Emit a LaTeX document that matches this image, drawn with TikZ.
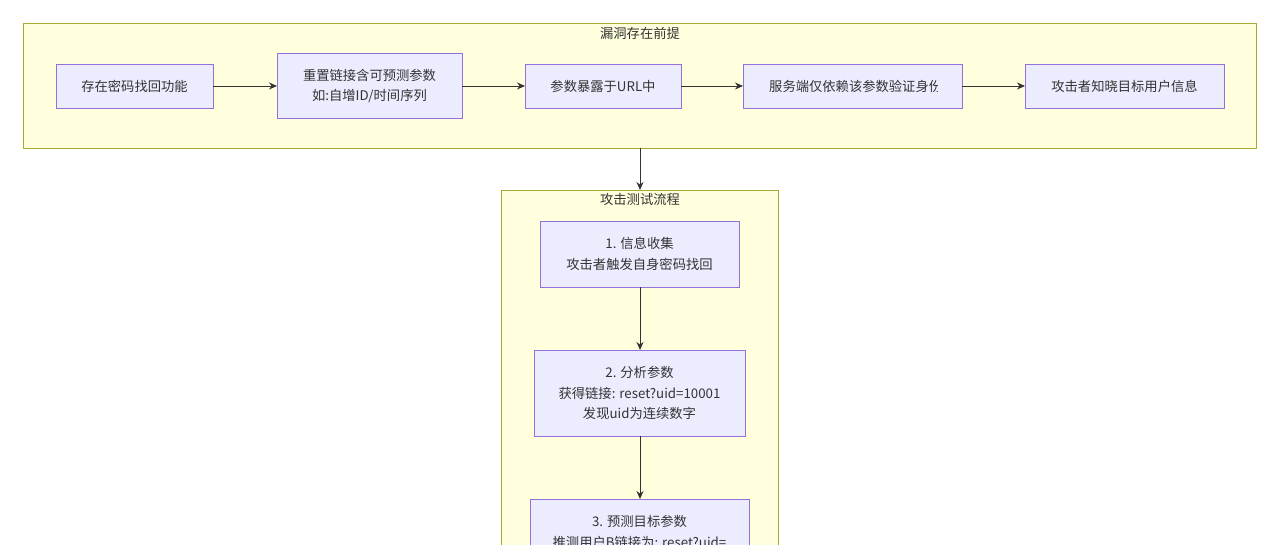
\documentclass[tikz,border=0pt]{standalone}
\usepackage{fontspec}
\setmainfont{Noto Sans CJK SC}
\usetikzlibrary{arrows.meta}
\definecolor{clfill}{HTML}{FFFFDE}
\definecolor{clline}{HTML}{AAAA33}
\definecolor{ndfill}{HTML}{ECECFF}
\definecolor{ndline}{HTML}{9370DB}
\definecolor{txt}{HTML}{333333}
\tikzset{
  x=1pt,y=-1pt,
  cluster/.style={draw=clline,fill=clfill,line width=0.7pt},
  nd/.style={draw=ndline,fill=ndfill,line width=0.7pt},
  lbl/.style={text=txt,font=\fontsize{13.3}{20.5}\selectfont,align=center,inner sep=0pt},
  arr/.style={draw=txt,line width=0.8pt,-{Stealth[length=8pt,width=7pt]}},
}
\begin{document}
\begin{tikzpicture}
\useasboundingbox (0,0) rectangle (1280,544);
\clip (0,0) rectangle (1280,544);
\fill[white] (0,0) rectangle (1280,544);
% cluster 1
\draw[cluster] (23,23) rectangle (1256,148);
\node[lbl] (t1) at (640,33) {漏洞存在前提};
\coordinate (c1b) at (640,148);
% cluster 2
\draw[cluster] (501,190) rectangle (778,560);
\node[lbl] (t2) at (640,199) {攻击测试流程};
\coordinate (c2t) at (640,190);
% top nodes
\draw[nd] (56,64) rectangle (213,108);
\node[lbl] (A) at (134.5,86) {存在密码找回功能};
\coordinate (Ar) at (213,86);
\draw[nd] (277,53) rectangle (462,118);
\node[lbl] (B) at (369.5,86) {重置链接含可预测参数\\如:自增ID/时间序列};
\coordinate (Bl) at (277,86); \coordinate (Br) at (462,86);
\draw[nd] (525,64) rectangle (681,108);
\node[lbl] (C) at (603,86) {参数暴露于URL中};
\coordinate (Cl) at (525,86); \coordinate (Cr) at (681,86);
\draw[nd] (743,64) rectangle (962,108);
\begin{scope}
\clip (743,64) rectangle (937,108);
\node[lbl,anchor=west] (D) at (769,86) {服务端仅依赖该参数验证身份};
\end{scope}
\coordinate (Dl) at (743,86); \coordinate (Dr) at (962,86);
\draw[nd] (1025,64) rectangle (1224,108);
\node[lbl] (E) at (1124.5,86) {攻击者知晓目标用户信息};
\coordinate (El) at (1025,86);
\draw[arr] (Ar) -- (Bl);
\draw[arr] (Br) -- (Cl);
\draw[arr] (Cr) -- (Dl);
\draw[arr] (Dr) -- (El);
\draw[arr] (c1b) -- (c2t);
% vertical nodes
\draw[nd] (540,221) rectangle (739,287);
\node[lbl] (N1) at (639.5,254) {1. 信息收集\\攻击者触发自身密码找回};
\coordinate (N1b) at (640,287);
\draw[nd] (534,350) rectangle (745,436);
\node[lbl] (N2) at (639.5,393) {2. 分析参数\\获得链接: reset?uid=10001\\发现uid为连续数字};
\coordinate (N2t) at (640,350); \coordinate (N2b) at (640,436);
\draw[nd] (530,499) rectangle (749,600);
\node[lbl,anchor=north] (N3) at (639.5,515.5) {3. 预测目标参数\\推测用户B链接为: reset?uid=};
\coordinate (N3t) at (640,499);
\draw[arr] (N1b) -- (N2t);
\draw[arr] (N2b) -- (N3t);
\end{tikzpicture}
\end{document}
